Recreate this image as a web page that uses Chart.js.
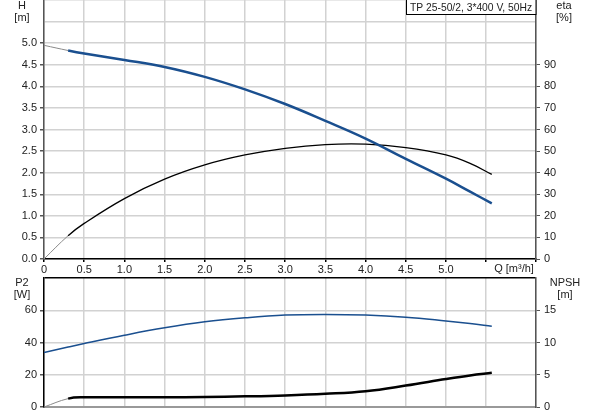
<!DOCTYPE html>
<html>
<head>
<meta charset="utf-8">
<script src="https://cdn.jsdelivr.net/npm/chart.js@4.4.1/dist/chart.umd.min.js"></script>
<style>
  body { margin: 0; background: #fff; }
  #wrap { position: relative; width: 593px; height: 415px; }
  canvas { position: absolute; left: 0; }
  #top-chart { top: 0; }
  #bottom-chart { top: 275px; }
</style>
</head>
<body>
<div id="wrap">
  <canvas id="top-chart" width="593" height="276"></canvas>
  <canvas id="bottom-chart" width="593" height="140"></canvas>
</div>
<script>
// flow Q [m3/h]
const flow = [0, 0.3, 0.5, 1.0, 1.5, 2.0, 2.5, 3.0, 3.5, 4.0, 4.5, 5.0, 5.3, 5.57];
// head H [m]
const head = [4.95, 4.83, 4.76, 4.61, 4.45, 4.22, 3.93, 3.59, 3.20, 2.79, 2.32, 1.86, 1.56, 1.29];
// efficiency eta [%]
const eta = [0, 10.8, 16.5, 28.0, 37.0, 43.6, 48.2, 51.3, 53.0, 53.2, 51.6, 48.2, 44.3, 39.2];
// power P2 [W]
const power = [33.8, 37.2, 39.4, 44.5, 49.1, 52.8, 55.3, 57.0, 57.4, 57.0, 55.7, 53.4, 51.8, 50.1];
// NPSH [m]
const npsh = [0, 1.3, 1.5, 1.5, 1.5, 1.55, 1.65, 1.8, 2.05, 2.45, 3.32, 4.34, 4.9, 5.3];

const title = 'TP 25-50/2, 3*400 V, 50Hz';

const FONT = "'Liberation Sans', Arial, sans-serif";
const gridColor = '#d2d2d2';
const blue = '#1a4f8f';

const pts = (ys) => flow.map((q, i) => ({ x: q, y: ys[i] }));
const thinStart = (color, w) => ({
  borderColor: (ctx) => ctx.p0.parsed.x < 0.3 ? '#8a8a8a' : color,
  borderWidth: (ctx) => ctx.p0.parsed.x < 0.3 ? 1 : w,
});

function fixWidth(w) {
  return (s) => { s.width = w; s.paddingTop = 0; s.paddingBottom = 0; };
}
function fixHeight(h) {
  return (s) => { s.height = h; s.paddingLeft = 0; s.paddingRight = 0; };
}
// hide tick marks above the last labelled value
const tickUpTo = (max) => (ctx) => ctx.tick && ctx.tick.value > max ? 'rgba(0,0,0,0)' : '#555';

// text labels drawn on the canvas
function textPlugin(items, box) {
  return {
    id: 'texts',
    afterDraw(chart) {
      const c = chart.ctx;
      c.save();
      c.font = '11px ' + FONT;
      c.fillStyle = '#222';
      c.textBaseline = 'middle';
      c.textAlign = 'center';
      items.forEach(t => c.fillText(t[0], t[1], t[2]));
      if (box) {
        const a = chart.chartArea;
        c.strokeStyle = '#000';
        c.lineWidth = 1;
        c.fillStyle = '#fff';
        c.fillRect(406, 0, a.right - 406, 15);
        c.strokeRect(406.5, -0.5, a.right - 406.5, 15);
        c.fillStyle = '#222';
        c.textAlign = 'left';
        c.font = '10.3px ' + FONT;
        c.fillText(box, 410, 8);
      }
      c.restore();
    }
  };
}

new Chart('top-chart', {
  type: 'line',
  data: {
    datasets: [{
      label: 'H',
      data: pts(head),
      yAxisID: 'y',
      borderColor: blue,
      borderWidth: 2.5,
      segment: thinStart(blue, 2.5),
      pointRadius: 0,
      tension: 0.4,
      fill: false,
    }, {
      label: 'eta',
      data: pts(eta),
      yAxisID: 'y2',
      borderColor: '#000',
      borderWidth: 1.3,
      segment: thinStart('#000', 1.3),
      pointRadius: 0,
      tension: 0.4,
      fill: false,
    }],
  },
  options: {
    responsive: false,
    animation: false,
    layout: { padding: 0 },
    scales: {
      x: {
        type: 'linear',
        min: 0,
        max: 6.12,
        afterFit: fixHeight(17),
        border: { color: '#000', width: 1.5 },
        grid: { color: gridColor, lineWidth: 1.5, tickLength: 3, tickColor: '#000' },
        ticks: {
          stepSize: 0.5,
          padding: 1,
          maxRotation: 0,
          autoSkip: false,
          color: '#222',
          font: { family: FONT, size: 11 },
          callback: (v) => v === 0 ? '0' : (v <= 5 ? v.toFixed(1) : ''),
        },
      },
      y: {
        position: 'left',
        min: 0,
        max: 6,
        afterFit: fixWidth(44),
        border: { color: '#555', width: 1.5 },
        grid: { color: gridColor, lineWidth: 1.5, tickLength: 4, tickColor: tickUpTo(5) },
        ticks: {
          stepSize: 0.5,
          padding: 3,
          color: '#222',
          font: { family: FONT, size: 11 },
          callback: (v) => v <= 5 ? v.toFixed(1) : '',
        },
      },
      y2: {
        position: 'right',
        min: 0,
        max: 120,
        afterFit: fixWidth(57),
        border: { color: '#555', width: 1.5 },
        grid: { drawOnChartArea: false, tickLength: 4, tickColor: tickUpTo(90) },
        ticks: {
          stepSize: 10,
          padding: 4,
          color: '#222',
          font: { family: FONT, size: 11 },
          callback: (v) => v <= 90 ? String(v) : '',
        },
      },
    },
    plugins: {
      legend: { display: false },
      tooltip: { enabled: false },
    },
  },
  plugins: [textPlugin([
    ['H', 22, 6], ['[m]', 22, 18],
    ['eta', 564, 6], ['[%]', 564, 18],
    ['Q [m\u00b3/h]', 514, 269],
  ], title)],
});

new Chart('bottom-chart', {
  type: 'line',
  data: {
    datasets: [{
      label: 'P2',
      data: pts(power),
      yAxisID: 'y',
      borderColor: blue,
      borderWidth: 1.5,
      pointRadius: 0,
      tension: 0.4,
      fill: false,
    }, {
      label: 'NPSH',
      data: pts(npsh),
      yAxisID: 'y2',
      borderColor: '#000',
      borderWidth: 2.5,
      segment: thinStart('#000', 2.5),
      pointRadius: 0,
      tension: 0.4,
      fill: false,
    }],
  },
  options: {
    responsive: false,
    animation: false,
    layout: { padding: { top: 3, left: 0, right: 0, bottom: 0 } },
    scales: {
      x: {
        type: 'linear',
        min: 0,
        max: 6.12,
        afterFit: fixHeight(8),
        border: { color: '#999', width: 2 },
        grid: { color: gridColor, lineWidth: 1.5, tickLength: 0 },
        ticks: { stepSize: 0.5, display: false },
      },
      y: {
        position: 'left',
        min: 0,
        max: 80,
        afterFit: fixWidth(44),
        border: { color: '#000', width: 1.5 },
        grid: {
          color: (ctx) => ctx.tick && ctx.tick.value === 80 ? '#000' : gridColor,
          lineWidth: 1.5,
          tickLength: 4,
          tickColor: tickUpTo(60),
        },
        ticks: {
          stepSize: 20,
          padding: 3,
          color: '#222',
          font: { family: FONT, size: 11 },
          callback: (v) => v <= 60 ? String(v) : '',
        },
      },
      y2: {
        position: 'right',
        min: 0,
        max: 20,
        afterFit: fixWidth(57),
        border: { color: '#555', width: 1.5 },
        grid: { drawOnChartArea: false, tickLength: 4, tickColor: tickUpTo(15) },
        ticks: {
          stepSize: 5,
          padding: 4,
          color: '#222',
          font: { family: FONT, size: 11 },
          callback: (v) => v <= 15 ? String(v) : '',
        },
      },
    },
    plugins: {
      legend: { display: false },
      tooltip: { enabled: false },
    },
  },
  plugins: [textPlugin([
    ['P2', 22, 8], ['[W]', 22, 20],
    ['NPSH', 565, 8], ['[m]', 565, 20],
  ])],
});
</script>
</body>
</html>
